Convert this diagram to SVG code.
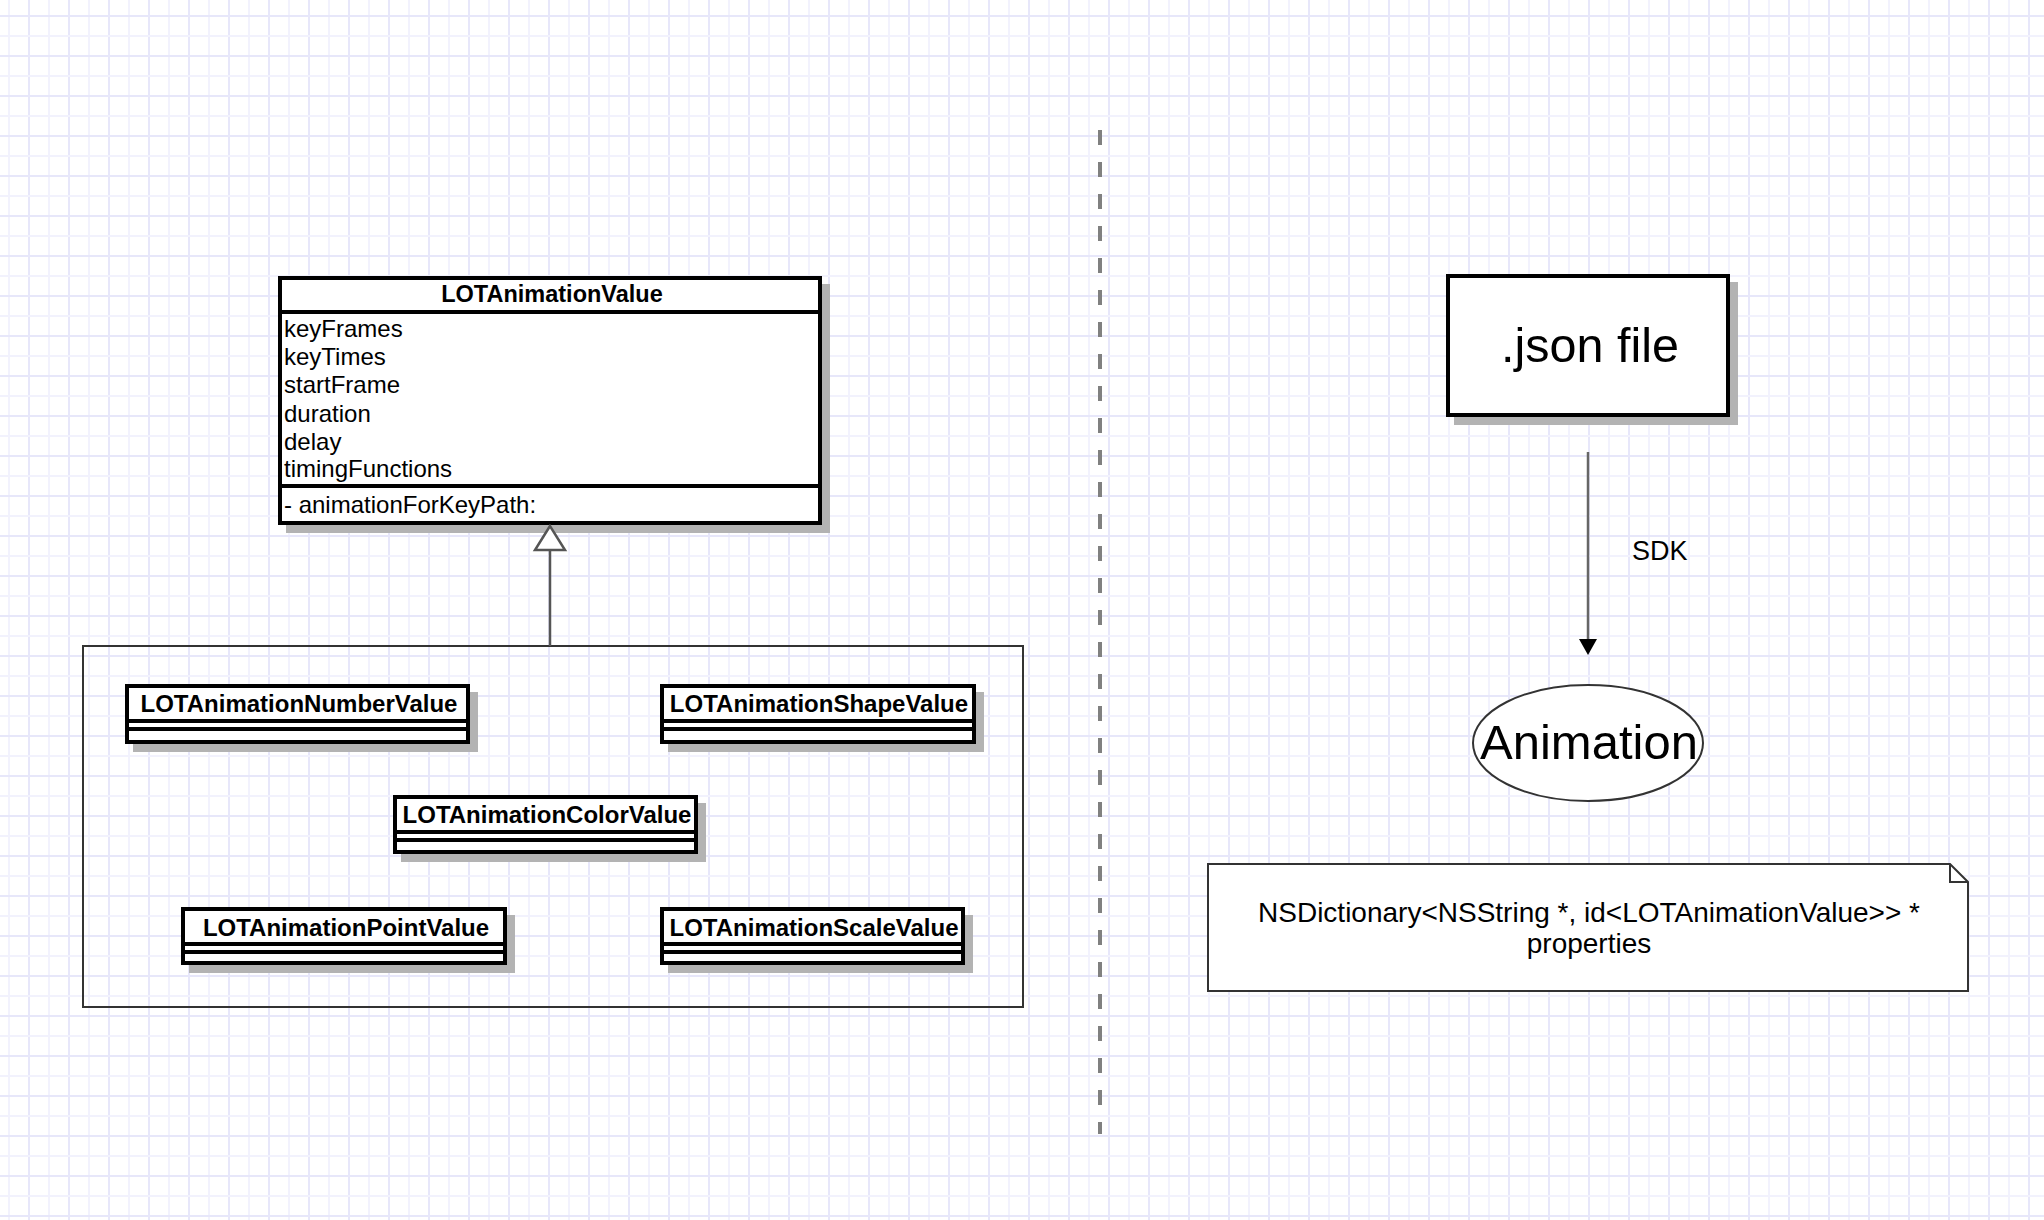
<svg xmlns="http://www.w3.org/2000/svg" width="2044" height="1220" viewBox="0 0 2044 1220">
<defs>
<pattern id="grid" patternUnits="userSpaceOnUse" x="0" y="0" width="40" height="40">
<rect width="40" height="40" fill="#ffffff"/>
<rect x="8" y="0" width="2" height="40" fill="#f2f2fd"/>
<rect x="28" y="0" width="2" height="40" fill="#e7e7fa"/>
<rect x="0" y="35" width="40" height="2" fill="#f2f2fd"/>
<rect x="0" y="15" width="40" height="2" fill="#e7e7fa"/>
</pattern>
</defs>
<style>
.box{fill:#ffffff;stroke:#000000;stroke-width:4}
.shadow{fill:#b3b3b3;stroke:#b3b3b3;stroke-width:4}
.sep{stroke:#000000;stroke-width:4}
.thin{fill:#ffffff;stroke:#333333;stroke-width:2}
.t{font-family:"Liberation Sans",Arial,Helvetica,sans-serif;fill:#000000}
.b{font-weight:bold}
.c{text-anchor:middle}
</style>
<rect width="2044" height="1220" fill="url(#grid)"/>

<line x1="1100" y1="130" x2="1100" y2="1134" stroke="#808080" stroke-width="4" stroke-dasharray="15 17"/>

<g id="LOTAnimationValue">
<rect class="shadow" x="288" y="286" width="540" height="245"/>
<rect class="box" x="280" y="278" width="540" height="245"/>
<line class="sep" x1="280" y1="312" x2="820" y2="312"/>
<line class="sep" x1="280" y1="486" x2="820" y2="486"/>
<text class="t b c" x="552" y="302" font-size="23.5">LOTAnimationValue</text>
<text class="t" x="284" font-size="24"><tspan x="284" y="337">keyFrames</tspan><tspan x="284" y="365">keyTimes</tspan><tspan x="284" y="393">startFrame</tspan><tspan x="284" y="421.5">duration</tspan><tspan x="284" y="450">delay</tspan><tspan x="284" y="477">timingFunctions</tspan></text>
<text class="t" x="284" y="513" font-size="24">- animationForKeyPath:</text>
</g>

<g id="container">
<rect x="83" y="646" width="940" height="361" fill="none" stroke="#333333" stroke-width="2"/>
</g>

<g id="LOTAnimationNumberValue">
<rect class="shadow" x="135" y="694" width="341" height="56"/>
<rect class="box" x="127" y="686" width="341" height="56"/>
<line class="sep" x1="127" y1="721" x2="468" y2="721"/>
<line class="sep" x1="127" y1="729" x2="468" y2="729"/>
<text class="t b c" x="299" y="712" font-size="24">LOTAnimationNumberValue</text>
</g>

<g id="LOTAnimationShapeValue">
<rect class="shadow" x="670" y="694" width="312" height="56"/>
<rect class="box" x="662" y="686" width="312" height="56"/>
<line class="sep" x1="662" y1="721" x2="974" y2="721"/>
<line class="sep" x1="662" y1="729" x2="974" y2="729"/>
<text class="t b c" x="819" y="712" font-size="24">LOTAnimationShapeValue</text>
</g>

<g id="LOTAnimationColorValue">
<rect class="shadow" x="403" y="805" width="301" height="55"/>
<rect class="box" x="395" y="797" width="301" height="55"/>
<line class="sep" x1="395" y1="832" x2="696" y2="832"/>
<line class="sep" x1="395" y1="840" x2="696" y2="840"/>
<text class="t b c" x="547" y="823" font-size="24">LOTAnimationColorValue</text>
</g>

<g id="LOTAnimationPointValue">
<rect class="shadow" x="191" y="917" width="322" height="54"/>
<rect class="box" x="183" y="909" width="322" height="54"/>
<line class="sep" x1="183" y1="944" x2="505" y2="944"/>
<line class="sep" x1="183" y1="952" x2="505" y2="952"/>
<text class="t b c" x="346" y="936" font-size="24">LOTAnimationPointValue</text>
</g>

<g id="LOTAnimationScaleValue">
<rect class="shadow" x="670" y="917" width="301" height="54"/>
<rect class="box" x="662" y="909" width="301" height="54"/>
<line class="sep" x1="662" y1="944" x2="963" y2="944"/>
<line class="sep" x1="662" y1="952" x2="963" y2="952"/>
<text class="t b c" x="814" y="936" font-size="24">LOTAnimationScaleValue</text>
</g>

<g id="json-file">
<rect class="shadow" x="1456" y="284" width="280" height="139"/>
<rect class="box" x="1448" y="276" width="280" height="139"/>
<text class="t c" x="1590" y="362" font-size="48.5">.json file</text>
</g>

<g id="animation">
<ellipse class="thin" cx="1588" cy="743" rx="115" ry="58"/>
<text class="t c" x="1589" y="759" font-size="49">Animation</text>
</g>

<g id="note">
<path class="thin" d="M1208,864 H1950 L1968,882 V991 H1208 Z"/>
<path d="M1950,864 V882 H1968" fill="none" stroke="#333333" stroke-width="2"/>
<text class="t c" x="1589" y="922" font-size="28">NSDictionary&lt;NSString *, id&lt;LOTAnimationValue&gt;&gt; *</text>
<text class="t c" x="1589" y="953" font-size="28">properties</text>
</g>

<g id="connectors">
<line x1="550" y1="550" x2="550" y2="646" stroke="#555555" stroke-width="2.5"/>
<polygon points="550,526 535,550 565,550" fill="#ffffff" stroke="#555555" stroke-width="2.5"/>
<line x1="1588" y1="452" x2="1588" y2="640" stroke="#666666" stroke-width="2.5"/>
<polygon points="1588,655 1579,639 1597,639" fill="#000000"/>
<text class="t" x="1632" y="560" font-size="27">SDK</text>
</g>
</svg>
